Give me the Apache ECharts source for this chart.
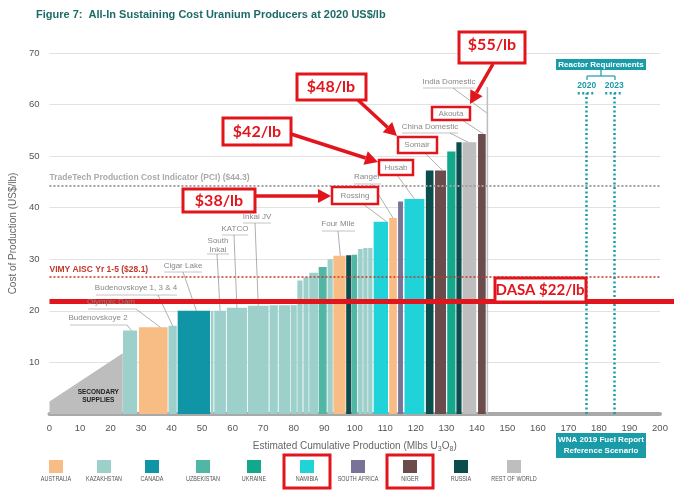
<!DOCTYPE html>
<html><head><meta charset="utf-8">
<script src="https://cdn.jsdelivr.net/npm/echarts@6/dist/echarts.min.js"></script>
<style>html,body{margin:0;padding:0;background:#fff}#c{width:680px;height:497px}</style>
</head><body><div id="c"></div>
<script>
// ---- data ----
const countries = ['AUSTRALIA','KAZAKHSTAN','CANADA','UZBEKISTAN','UKRAINE','NAMIBIA','SOUTH AFRICA','NIGER','RUSSIA','REST OF WORLD'];
const countryColors = ['#f8bd84','#9dd0ca','#0f95a5','#52b6a4','#13a78b','#1fd3d8','#7a7399','#6c4b4c','#0b4d4d','#bebebe'];
// cumulative production start/end (Mlbs U3O8), cost (US$/lb), country index
const barStart  = [24.1,29.3,39.0,42.0,52.9,54.0,58.1,65.0,72.1,75.1,79.1,81.2,83.2,85.1,88.2,91.1,93.0,97.2,99.1,101.1,102.8,104.4,106.2,111.3,114.2,116.3,123.3,126.3,130.3,133.3,135.3,140.4,143.2];
const barEnd    = [28.7,38.7,41.7,52.6,53.7,57.8,64.7,71.8,74.8,78.9,81.0,82.9,84.9,88.0,90.8,92.8,97.0,98.9,100.8,102.6,104.2,105.8,110.9,113.8,115.8,122.8,125.8,129.9,133.0,135.0,139.8,142.9,143.7];
const barCost   = [16.2,16.8,17.1,20.0,20.0,20.0,20.6,21.0,21.1,21.1,21.1,25.9,26.5,27.4,28.5,30.0,30.7,30.8,30.9,32.0,32.2,32.2,37.3,38.0,41.2,41.7,47.2,47.2,50.9,52.7,52.7,54.3,63.4];
const barCountry= [1,0,1,2,1,1,1,1,1,1,1,1,1,1,3,1,0,8,3,1,1,1,5,0,6,5,8,7,4,8,9,7,9];
const secondaryX = [0, 24];
const secondaryY = [2.4, 11.8];
const pciValue = 44.3;
const vimyLine = 26.6;
const dasaValue = 22;
const reactorYears = ['2020','2023'];
const reactorX = [176, 185];
const reactorTop = 62.2;
const xTicks = {min:0, max:200, interval:10};
const yTicks = {min:0, max:70, interval:10};

const RED = '#e3151c';
const TEAL = '#1a9ca8';
const chart = echarts.init(document.getElementById('c'));
const barData = barStart.map((s,i)=>[s, barEnd[i], barCost[i], barCountry[i]]);

chart.setOption({
  animation:false,
  title:{text:'Figure 7:  All-In Sustaining Cost Uranium Producers at 2020 US$/lb', left:31, top:4,
    textStyle:{fontSize:11, fontWeight:'bold', color:'#1d6b66', fontFamily:'Liberation Sans'}},
  grid:{left:45, right:20, top:53, bottom:83},
  xAxis:{type:'value', min:xTicks.min, max:xTicks.max, interval:xTicks.interval,
    axisLine:{show:true, lineStyle:{color:'#a9a9a9', width:4}}, axisTick:{show:false}, splitLine:{show:false},
    axisLabel:{color:'#555', fontSize:9.5, margin:9, fontFamily:'Liberation Sans'},
    name:'Estimated Cumulative Production (Mlbs U{s|3}O{s|8})', nameLocation:'middle', nameGap:26,
    nameTextStyle:{color:'#666', fontSize:10, fontFamily:'Liberation Sans', rich:{s:{fontSize:7, verticalAlign:'bottom', color:'#666', padding:[6,0,0,0]}}}},
  yAxis:{type:'value', min:yTicks.min, max:yTicks.max, interval:yTicks.interval,
    axisLine:{show:false}, axisTick:{show:false},
    splitLine:{lineStyle:{color:'#e2e2e2', width:1}},
    axisLabel:{color:'#555', fontSize:9.5, margin:10, fontFamily:'Liberation Sans', formatter:v=>v===0?'':v},
    name:'Cost of Production (US$/lb)', nameLocation:'middle', nameGap:25,
    nameTextStyle:{color:'#666', fontSize:10, fontFamily:'Liberation Sans'}},
  series:[
    {type:'line', z:1, data:[], markLine:{silent:true, symbol:'none',
      lineStyle:{color:'#a0a0a0', width:2, type:[2,2]},
      label:{position:'insideStartTop', formatter:'TradeTech Production Cost Indicator (PCI) ($44.3)', color:'#aaa', fontSize:8.5, fontWeight:'bold', fontFamily:'Liberation Sans', distance:[0,3]},
      data:[{yAxis:pciValue}]}},
    {type:'line', z:2, data:secondaryX.map((x,i)=>[x,secondaryY[i]]), showSymbol:false, symbol:'none',
      lineStyle:{width:0}, areaStyle:{color:'#bdbdbd', opacity:1}},
    {type:'custom', z:3, data:barData, encode:{x:[0,1], y:2},
      renderItem:function(params, api){
        const s = api.coord([api.value(0), api.value(2)]);
        const e = api.coord([api.value(1), 0]);
        return {type:'rect', shape:{x:s[0], y:s[1], width:e[0]-s[0], height:e[1]-s[1]},
          style:{fill:countryColors[api.value(3)]}};
      }},
    {type:'line', z:4, data:[], markLine:{silent:true, symbol:'none',
      lineStyle:{color:'#c0392b', width:1.6, type:[2,2]},
      label:{position:'insideStartTop', formatter:'VIMY AISC Yr 1-5 ($28.1)', color:'#c0392b', fontSize:8.5, fontWeight:'bold', fontFamily:'Liberation Sans', distance:[0,3]},
      data:[{yAxis:vimyLine}]}},
    {type:'line', z:4, data:[], markLine:{silent:true, symbol:'none',
      lineStyle:{color:TEAL, width:2.5, type:[2,2.5]}, label:{show:false},
      data:reactorX.map(x=>[{coord:[x,0]},{coord:[x,reactorTop]}])}}
  ]
});

// ---- annotations ----
const P = (x,y)=>chart.convertToPixel({gridIndex:0},[x,y]);
const G = [];
function box(x,y,w,h,lw,fill,stroke){ G.push({type:'rect', shape:{x,y,width:w,height:h}, style:{fill:fill||'#fff', stroke:stroke||RED, lineWidth:lw}, z:110}); }
function txt(x,y,t,st,extra){ G.push(Object.assign({type:'text', x, y, style:Object.assign({text:t, fill:'#8a8a8a', fontSize:8, fontFamily:'Liberation Sans', textAlign:'center', textVerticalAlign:'middle'}, st||{}), z:120}, extra||{})); }
function seg(x1,y1,x2,y2,color,w,dash,z){ G.push({type:'line', shape:{x1,y1,x2,y2}, style:{stroke:color, lineWidth:w, lineDash:dash||null}, z:z||105}); }
function arrow(x1,y1,x2,y2){
  const a=Math.atan2(y2-y1,x2-x1), L=13, W=7;
  const bx=x2-L*Math.cos(a), by=y2-L*Math.sin(a), nx=-Math.sin(a), ny=Math.cos(a);
  seg(x1,y1,bx,by,RED,3.5,null,115);
  G.push({type:'polygon', shape:{points:[[x2,y2],[bx+nx*W,by+ny*W],[bx-nx*W,by-ny*W]]}, style:{fill:RED}, z:116});
}
function barTop(i,f){ return P(barStart[i]+f*(barEnd[i]-barStart[i]), barCost[i]); }
function leader(lines, cx, cy, ulx1, ulx2, uly, sx, target){
  lines.forEach((l,k)=>txt(cx, cy+k*8.5, l, {fill:'#888'}));
  seg(ulx1,uly,ulx2,uly,'#b5b5b5',0.8);
  seg(sx,uly,target[0],target[1],'#9a9a9a',0.8);
}
const ss = P(16,3.2);
txt(ss[0], ss[1]-5, 'SECONDARY', {fill:'#222', fontSize:6.5, fontWeight:'bold'});
txt(ss[0], ss[1]+2.5, 'SUPPLIES', {fill:'#222', fontSize:6.5, fontWeight:'bold'});

leader(['Budenovskoye 2'], 98, 318, 70, 127, 325, 127, barTop(0,0.6));
leader(['Olympic Dam'], 111, 302, 88, 136, 309, 136, barTop(1,0.75));
leader(['Budenovskoye 1, 3 & 4'], 136, 288, 96, 177, 295, 158, barTop(2,0.5));
leader(['Cigar Lake'], 183, 266, 164, 202, 272, 183, barTop(3,0.58));
leader(['South','Inkai'], 218, 241, 207, 229, 254, 217, barTop(5,0.5));
leader(['KATCO'], 235, 229, 222, 248, 235, 234, barTop(6,0.5));
leader(['Inkai JV'], 257, 217, 243, 271, 223, 255, barTop(7,0.5));
leader(['Four Mile'], 338, 224, 322, 355, 231, 338, barTop(16,0.57));
leader(['Ranger'], 367, 177, 354, 381, 184, 372, barTop(23,0.5));
leader(['China Domestic'], 430, 127, 402, 458, 133, 450, barTop(30,0.4));
leader(['India Domestic'], 449, 82, 423, 475, 88, 453, P(barStart[32], barCost[32]-5));
seg(363,204,...barTop(22,0.9),'#9a9a9a',0.8);
seg(397,175,...barTop(25,0.5),'#9a9a9a',0.8);
seg(425,153,...barTop(27,0.7),'#9a9a9a',0.8);
seg(462,120,...barTop(31,0.7),'#9a9a9a',0.8);
box(332,187,46,17,2.5); txt(355,196,'Rossing');
box(379,160,34,15,2.5); txt(396,168,'Husab');
box(398,137,39,16,2.5); txt(417,145,'Somair');
box(432,107,38,13,2.5); txt(451,114,'Akouta');

const d0 = P(0,dasaValue);
seg(d0[0], d0[1]+1, 674, d0[1]+1, RED, 5, null, 108);
box(495,278,91,24,3); txt(540,290.5,'DASA $22/lb', {fill:RED, fontSize:15, fontWeight:'bold', fontFamily:'Lato'});

box(459,32,66,31,3); txt(492,45,'$55/lb', {fill:RED, fontSize:16, fontWeight:'bold', fontFamily:'Lato'});
arrow(493,64,470,104);
box(297,74,69,26,3); txt(331,87,'$48/lb', {fill:RED, fontSize:16, fontWeight:'bold', fontFamily:'Lato'});
arrow(358,100,397,136);
box(223,118,68,27,3); txt(257,131.5,'$42/lb', {fill:RED, fontSize:16, fontWeight:'bold', fontFamily:'Lato'});
arrow(291,134,378,162);
box(183,189,72,23,3); txt(219,200.5,'$38/lb', {fill:RED, fontSize:16, fontWeight:'bold', fontFamily:'Lato'});
arrow(255,196,331,196);

box(556,59,90,11,0,TEAL,TEAL); txt(601,64.5,'Reactor Requirements', {fill:'#fff', fontSize:8, fontWeight:'bold'});
seg(601,70,601,76,TEAL,1.2); seg(587,76,615,76,TEAL,1.2); seg(587,76,587,80,TEAL,1.2); seg(615,76,615,80,TEAL,1.2);
reactorX.forEach((x,i)=>{
  const p = P(x, reactorTop);
  txt(p[0], p[1]-8, reactorYears[i], {fill:TEAL, fontSize:8.5, fontWeight:'bold'});
  seg(p[0]-9, p[1], p[0]+9, p[1], TEAL, 2.5, [2,2.5]);
});
box(556,433,90,25,0,TEAL,TEAL);
txt(601,440,'WNA 2019 Fuel Report', {fill:'#fff', fontSize:8, fontWeight:'bold'});
txt(601,451,'Reference Scenario', {fill:'#fff', fontSize:8, fontWeight:'bold'});

const legendX = [56,104,152,203,254,307,358,410,461,514];
countries.forEach((c,i)=>{
  G.push({type:'rect', shape:{x:legendX[i]-7, y:460, width:14, height:13}, style:{fill:countryColors[i]}, z:110});
  txt(legendX[i], 479, c, {fill:'#555', fontSize:7, fontFamily:'Liberation Sans'}, {scaleX:0.78});
});
[5,7].forEach(i=>{ G.push({type:'rect', shape:{x:legendX[i]-23, y:455, width:46, height:33}, style:{fill:'none', stroke:RED, lineWidth:3}, z:111}); });

chart.setOption({graphic:{elements:G}});
</script></body></html>
